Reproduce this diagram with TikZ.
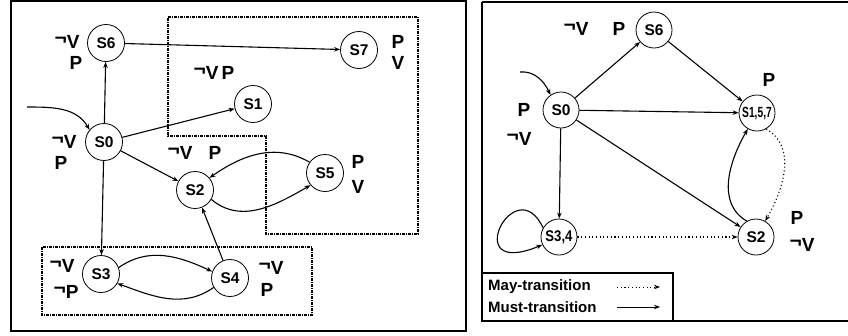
\documentclass[tikz,border=0pt]{standalone}
\usepackage{fontspec}
\setmainfont{Liberation Sans}
\usetikzlibrary{arrows.meta}
\newcommand\nv{\raisebox{0.22em}{\scalebox{1.1}[1]{¬}}V}
\newcommand\np{\raisebox{0.22em}{\scalebox{1.1}[1]{¬}}P}
\begin{document}
\begin{tikzpicture}[x=1pt,y=-1pt,
  st/.style={circle,draw,line width=0.8pt,minimum size=37pt,inner sep=0pt,font=\bfseries\fontsize{15.5}{15.5}\selectfont},
  lab/.style={inner sep=0pt,font=\bfseries\fontsize{19}{19}\selectfont},
  tr/.style={line width=1.1pt,-{Stealth[length=6pt,width=4.5pt]}},
  may/.style={line width=1.1pt,dash pattern=on 1.1pt off 2.6pt,-{Stealth[length=6pt,width=4.5pt]}},
  panel/.style={line width=1.4pt},
  ddbox/.style={line width=1.1pt,dash pattern=on 3pt off 1pt on 1pt off 1pt},
  leg/.style={inner sep=0pt,anchor=west,font=\bfseries\fontsize{15}{15}\selectfont}]
\useasboundingbox (0,0) rectangle (848,335);
\fill[white] (0,0) rectangle (848,335);
% panels
\draw[panel] (11,1) rectangle (466,331);
\draw[panel] (482,2) -- (860,2) (482,2) -- (482,321) -- (860,321);
% left panel boxes
\draw[ddbox] (168,17) -- (418,17) -- (418,234) -- (266,234) -- (266,136) -- (168,136) -- cycle;
\draw[ddbox] (42,247) rectangle (312,315);
% left nodes
\node[st] (S6) at (106,43) {S6};
\node[st] (S7) at (359,50) {S7};
\node[st] (S1) at (253,104) {S1};
\node[st] (S0) at (104,142) {S0};
\node[st] (S2) at (195,190) {S2};
\node[st] (S5) at (325,173) {S5};
\node[st] (S3) at (101,274) {S3};
\node[st] (S4) at (230,278) {S4};
% left labels
\node[lab] (l6a) at (67,42) {\nv};
\node[lab] (l6b) at (76,63) {P};
\node[lab] (l7a) at (398,42) {P};
\node[lab] (l7b) at (398,63) {V};
\node[lab] (l1) at (214,73) {\nv\,P};
\node[lab] (l0a) at (64,142) {\nv};
\node[lab] (l0b) at (61,163) {P};
\node[lab] (l2a) at (180,153) {\nv};
\node[lab] (l2b) at (215,153) {P};
\node[lab] (l5a) at (358,162) {P};
\node[lab] (l5b) at (358,187) {V};
\node[lab] (l3a) at (62,266) {\nv};
\node[lab] (l3b) at (66,292) {\np};
\node[lab] (l4a) at (271,268) {\nv};
\node[lab] (l4b) at (267,290) {P};
% left edges
\coordinate (i0) at (27,107);
\draw[tr] (i0) to[out=0,in=120] (S0.140);
\draw[tr] (S0) -- (S6);
\draw[tr] (S6) -- (S7);
\draw[tr] (S0) -- (S1);
\draw[tr] (S0) -- (S2);
\draw[tr] (S0) -- (S3);
\draw[tr] (S4) -- (S2);
\draw[tr] (S5.145) to[out=150,in=35] (S2.40);
\draw[tr] (S2.-30) to[out=-40,in=-150] (S5.-140);
\draw[tr] (S3.20) to[out=35,in=155] (S4.160);
\draw[tr] (S4.-150) to[out=-145,in=-20] (S3.-30);
% right nodes
\node[st,minimum size=36pt] (R6) at (654,30) {S6};
\node[st,minimum size=36pt] (R0) at (561,110) {S0};
\node[st,minimum size=36pt] (R157) at (757,113) {\scalebox{0.66}[0.95]{S1,5,7}};
\node[st,minimum size=36pt] (R34) at (559,237) {\scalebox{0.85}[1]{S3,4}};
\node[st,minimum size=36pt] (R2) at (756,237) {S2};
% right labels
\node[lab] (r6a) at (576,29) {\nv};
\node[lab] (r6b) at (619,29) {P};
\node[lab] (r0a) at (524,110) {P};
\node[lab] (r0b) at (519,139) {\nv};
\node[lab] (r157) at (769,80) {P};
\node[lab] (r2a) at (797,218) {P};
\node[lab] (r2b) at (802,245) {\nv};
% right edges
\coordinate (i1) at (520,72);
\draw[tr] (i1) to[out=5,in=115] (R0.125);
\draw[tr] (R0) -- (R6);
\draw[tr] (R6) -- (R157);
\draw[tr] (R0) -- (R157);
\draw[tr] (R0) -- (R2);
\draw[tr] (R0) -- (R34);
\draw[may] (R34) -- (R2);
\draw[tr] (R2.120) to[out=150,in=-120] (R157.-120);
\draw[may] (R157.-60) to[out=-30,in=60] (R2.60);
\draw[tr] (R34.150) .. controls (515,168) and (458,280) .. (R34.205);
% legend
\draw[panel] (482,273) -- (673,273) -- (673,321);
\node[leg] (m1) at (488,287) {May-transition};
\node[leg] (m2) at (488,307) {Must-transition};
\coordinate (a1) at (617,287);
\coordinate (b1) at (660,287);
\coordinate (a2) at (617,307);
\coordinate (b2) at (660,307);
\draw[may,line width=0.9pt] (a1) -- (b1);
\draw[tr,line width=0.9pt] (a2) -- (b2);
\end{tikzpicture}
\end{document}
